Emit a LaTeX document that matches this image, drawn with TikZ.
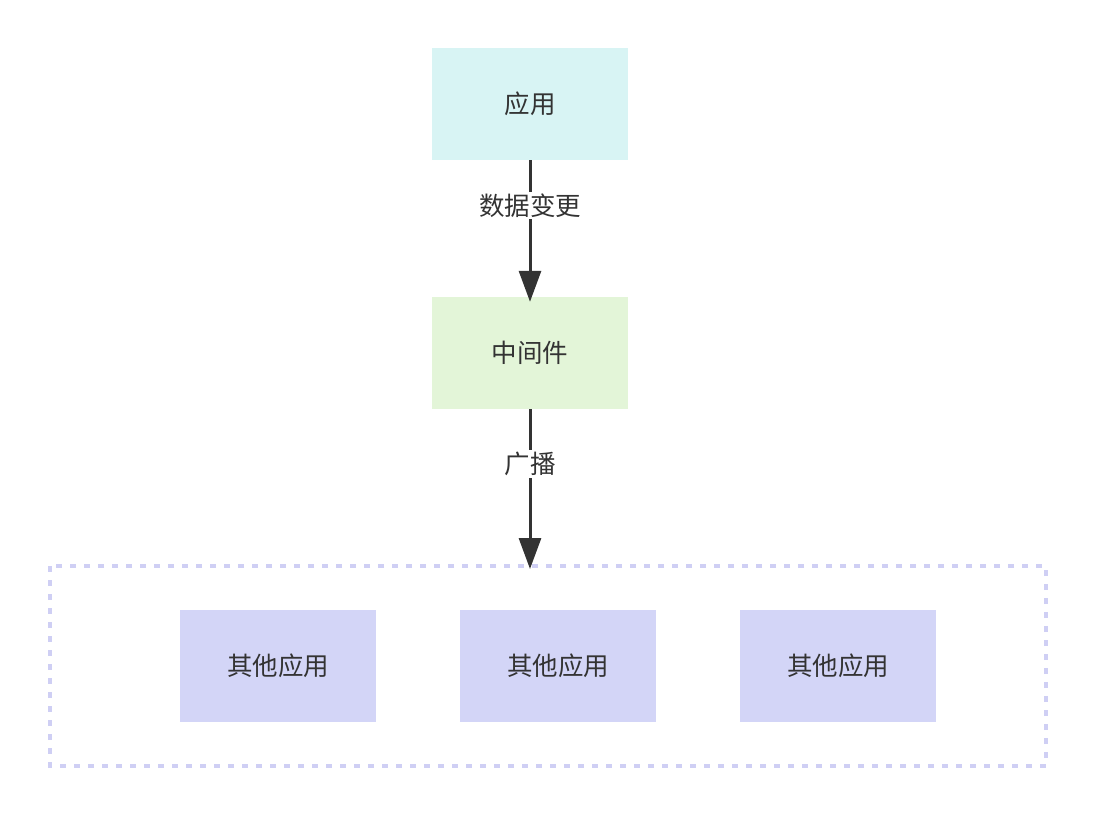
\documentclass[tikz,border=0pt]{standalone}
\usepackage{fontspec}
\setmainfont{Noto Sans CJK SC}
\usetikzlibrary{arrows.meta}
\definecolor{appc}{HTML}{D8F4F4}
\definecolor{midc}{HTML}{E3F5D8}
\definecolor{othc}{HTML}{D3D5F7}
\definecolor{dashc}{HTML}{CFCFF4}
\definecolor{txtc}{HTML}{333333}
\tikzset{
  box/.style={minimum width=196pt, minimum height=112pt, inner sep=0pt, draw=none, text=txtc, font=\fontsize{25.5}{30}\selectfont},
  conn/.style={draw=txtc, line width=3pt, -{Triangle[length=31pt,width=22pt]}},
  lbl/.style={fill=white, text=txtc, font=\fontsize{25.5}{30}\selectfont, inner sep=2pt}
}
\begin{document}
\begin{tikzpicture}[x=1pt,y=-1pt]
\useasboundingbox (0,0) rectangle (1096,816);
\draw[dashc, line width=3.5pt, dash pattern=on 6pt off 8pt] (50,566) rectangle (1046,766);
\node[box, fill=appc] (app) at (530,104) {应用};
\node[box, fill=midc] (mid) at (530,353) {中间件};
\node[box, fill=othc] (o1) at (278,666) {其他应用};
\node[box, fill=othc] (o2) at (558,666) {其他应用};
\node[box, fill=othc] (o3) at (838,666) {其他应用};
\coordinate (grp) at (530,569);
\draw[conn] (app.south) -- ([yshift=-5pt]mid.north) node[lbl, pos=0.32] {数据变更};
\draw[conn] (mid.south) -- (grp) node[lbl, pos=0.345] {广播};
\end{tikzpicture}
\end{document}
